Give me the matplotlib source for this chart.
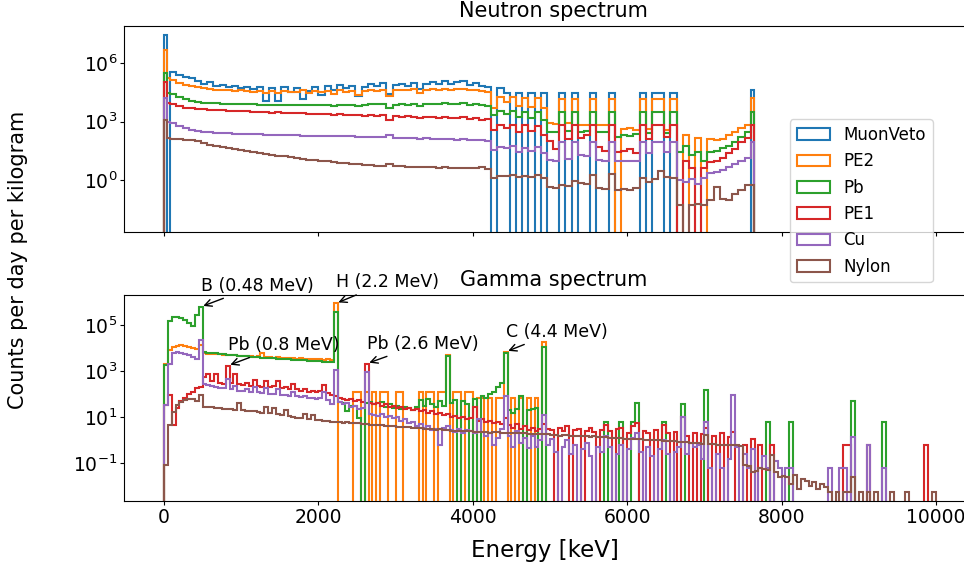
import numpy as np
import matplotlib
matplotlib.use("Agg")
import matplotlib.pyplot as plt
from matplotlib.ticker import NullLocator

plt.rcParams['font.size'] = 12.5

Z = None  # empty bin

materials = ['MuonVeto', 'PE2', 'Pb', 'PE1', 'Cu', 'Nylon']
colors = ['C0', 'C1', 'C2', 'C3', 'C4', 'C5']

# bin edges in keV
neutron_edges = [0, 40] + list(range(80, 7601, 80)) + [7640]
gamma_edges = list(range(0, 10001, 50))

# ---------------- Neutron spectrum, log10(counts/day/kg) per bin ----------------
n_muonveto = [7.45, Z,
    5.55, 5.40, 5.30, 5.25, 5.10, 4.95, 5.05, 4.85, 4.90, 4.80,
    4.85, 4.75, 4.80, 4.70, 4.80, 4.05, 4.75, 4.05, 4.80, 4.50,
    4.75, 4.15, 4.55, 4.80, 4.35, 4.85, 4.60, 4.90, 4.75, 4.85,
    4.30, 4.80, 4.95, 4.85, 5.00, 4.40, 4.90, 4.95, 4.85, 5.00,
    4.70, 4.95, 5.05, 4.95, 5.10, 4.95, 5.05, 5.10, 4.90, 5.00,
    4.85, 4.80,
    Z, 4.75, 4.45, Z, 4.45, Z, 4.45, Z, 4.45,
    Z, Z, 4.45, Z, 4.45, Z, Z, 4.45, Z, Z, 4.45, Z, Z, Z, Z, 4.45, Z, 4.45, 4.45, Z,
    4.45, Z, Z, Z, Z, Z, Z, Z, Z, Z, Z, Z, Z,
    4.63]
n_pe2 = [6.70, 5.23,
    5.15, 5.00, 4.90, 4.85, 4.78, 4.72, 4.68, 4.65, 4.62, 4.62,
    4.58, 4.60, 4.55, 4.52, 4.55, 4.45, 4.55, 4.48, 4.55, 4.50,
    4.52, 4.60, 4.45, 4.55, 4.50, 4.55, 4.40, 4.60, 4.50, 4.55,
    4.35, 4.55, 4.62, 4.58, 4.62, 4.30, 4.60, 4.65, 4.60, 4.66,
    4.45, 4.60, 4.66, 4.62, 4.70, 4.62, 4.68, 4.70, 4.60, 4.62,
    4.55, 4.50,
    3.70, 4.25, 4.00, 4.25, 3.80, 4.20, 3.75, 4.20, 3.70,
    2.95, 2.90, 4.15, 2.95, 4.15, 2.85, 2.80, 4.15, 2.85, 2.80, 4.15, Z, 2.60, 2.65, 2.55, 4.15, 2.60, 4.15, 4.15, 2.55,
    4.15, Z, 2.30, Z, 2.15, Z, 2.10, 2.05, 2.10, 2.30, 2.45, 2.65, 2.85,
    4.22]
n_pb = [5.50, 4.46,
    4.40, 4.25, 4.15, 4.08, 4.02, 3.98, 3.96, 3.94, 3.92, 3.92,
    3.90, 3.90, 3.88, 3.88, 3.87, 3.86, 3.87, 3.85, 3.86, 3.85,
    3.85, 3.86, 3.84, 3.85, 3.84, 3.86, 3.82, 3.86, 3.85, 3.86,
    3.80, 3.86, 3.88, 3.88, 3.90, 3.70, 3.86, 3.88, 3.86, 3.90,
    3.80, 3.88, 3.92, 3.88, 3.94, 3.88, 3.92, 3.94, 3.86, 3.90,
    3.84, 3.82,
    3.35, 3.55, 3.40, 3.55, 3.25, 3.50, 3.20, 3.50, 3.10,
    2.48, 2.45, 3.50, 2.50, 3.50, 2.45, 2.50, 3.50, 2.48, 2.45, 3.50, 2.20, 2.30, 2.25, 2.35, 3.50, 2.40, 3.50, 3.50, 2.40,
    3.50, 1.45, 1.75, 1.30, 1.45, 1.00, 1.45, 1.50, 1.65, 1.75, 1.95, 2.20, 2.45,
    3.51]
n_pe1 = [5.05, 3.94,
    3.90, 3.80, 3.72, 3.70, 3.66, 3.64, 3.62, 3.58, 3.60, 3.56,
    3.55, 3.52, 3.53, 3.50, 3.50, 3.48, 3.46, 3.47, 3.44, 3.45,
    3.42, 3.44, 3.40, 3.40, 3.38, 3.40, 3.36, 3.38, 3.35, 3.34,
    3.32, 3.30, 3.33, 3.30, 3.32, 3.10, 3.28, 3.26, 3.28, 3.25,
    3.20, 3.22, 3.25, 3.20, 3.24, 3.18, 3.20, 3.22, 3.15, 3.18,
    3.10, 3.12,
    2.55, 2.80, 2.65, 2.85, 2.45, 2.80, 2.50, 2.75, 2.30,
    2.00, 1.60, 2.85, 2.10, 2.85, 2.15, 2.30, 2.85, 1.70, 1.50, 2.85, 1.45, 1.50, 1.60, 1.40, 2.85, 2.10, 2.85, 2.85, 2.20,
    2.85, Z, 0.95, 0.60, Z, 0.60, 0.90, 1.00, 1.15, 1.40, 1.60, 1.95, 2.15,
    2.83]
n_cu = [4.20, 3.00,
    2.95, 2.75, 2.65, 2.58, 2.52, 2.48, 2.45, 2.43, 2.42, 2.40,
    2.38, 2.38, 2.36, 2.35, 2.34, 2.33, 2.32, 2.32, 2.30, 2.30,
    2.29, 2.28, 2.28, 2.27, 2.26, 2.26, 2.25, 2.25, 2.24, 2.24,
    2.22, 2.22, 2.20, 2.20, 2.20, 2.30, 2.18, 2.17, 2.16, 2.15,
    2.12, 2.14, 2.12, 2.10, 2.12, 2.10, 2.08, 2.10, 2.06, 2.08,
    2.04, 2.00,
    1.55, 1.70, 1.65, 1.75, 1.45, 1.65, 1.50, 1.70, 1.40,
    1.05, 1.00, 1.97, 1.10, 1.97, 1.30, 1.25, 1.97, 1.05, 1.00, 1.97, 0.95, 0.98, 1.00, 0.95, 1.97, 1.40, 1.97, 1.97, 1.45,
    1.97, 0.00, -0.10, 0.05, -0.20, 0.10, 0.35, 0.40, 0.50, 0.65, 0.80, 1.00, 1.15,
    1.97]
n_nylon = [3.10, 2.14,
    2.12, 2.10, 2.08, 2.05, 1.98, 1.90, 1.82, 1.75, 1.68, 1.62,
    1.58, 1.53, 1.48, 1.44, 1.39, 1.34, 1.30, 1.25, 1.21, 1.16,
    1.11, 1.08, 1.05, 1.01, 0.98, 0.95, 0.92, 0.88, 0.85, 0.82,
    0.80, 0.77, 0.75, 0.74, 0.72, 0.82, 0.72, 0.70, 0.69, 0.68,
    0.66, 0.67, 0.65, 0.64, 0.66, 0.63, 0.62, 0.64, 0.60, 0.62,
    0.65, 0.58,
    0.10, 0.20, 0.20, 0.25, 0.15, 0.22, 0.15, 0.25, 0.10,
    -0.35, -0.40, -0.25, -0.30, -0.05, -0.15, -0.20, 0.25, -0.40, -0.45, 0.29, -0.50, -0.45, -0.50, -0.40, 0.10, -0.10, 0.05, 0.45, 0.15,
    0.10, -1.30, Z, -1.30, -1.25, -1.30, -1.05, -0.35, -1.00, -1.05, -0.70, -0.50, -0.26,
    -0.26]

# ---------------- Gamma spectrum, log10(counts/day/kg) per 50 keV bin ----------------
g_pe2 = [
    3.30, 3.90, 4.05, 4.10, 4.12, 4.10, 4.05, 4.00, 3.95, 4.15,
    3.80, 3.75, 3.74, 3.72, 3.72, 3.70, 3.70, 3.68, 3.70, 3.66,
    3.67, 3.64, 3.66, 3.62, 3.64, 3.78, 3.60, 3.62, 3.58, 3.60,
    3.56, 3.58, 3.55, 3.56, 3.54, 3.55, 3.52, 3.54, 3.50, 3.52,
    3.50, 3.48, 3.50, 3.46, 5.93, Z, Z, Z, Z, 2.10,
    2.10, Z, 2.10, Z, 2.10, Z, 2.10, 2.10, Z, Z,
    2.10, 2.10, Z, Z, Z, Z, 2.10, Z, 2.10, 2.10,
    Z, 2.10, 2.10, 3.70, Z, 2.10, 2.10, Z, 2.10, 2.10,
    Z, 1.85, 1.85, Z, 1.85, Z, 1.85, 1.85, 3.83, Z,
    1.85, Z, 1.85, Z, 1.85, Z, 1.85, Z, 4.26,
    *[Z] * 101]
g_pb = [
    3.27, 5.15, 5.35, 5.33, 5.28, 5.20, 5.10, 4.95, 5.45, 5.78,
    3.83, 3.80, 3.78, 3.76, 3.74, 3.72, 3.70, 3.69, 3.68, 3.66,
    3.65, 3.63, 3.62, 3.60, 3.60, 3.58, 3.57, 3.56, 3.55, 3.53,
    3.52, 3.51, 3.50, 3.49, 3.48, 3.47, 3.46, 3.45, 3.44, 3.43,
    3.42, 3.41, 3.40, 3.40, 5.56, 1.65, 1.60, 1.25, 1.50, 1.50,
    0.95, Z, 1.60, 1.65, 1.55, 1.60, 1.65, 1.45, 1.55, 1.40,
    1.50, 1.35, 1.45, 1.40, 1.30, 1.45, 1.75, 1.50, 1.80, 1.55,
    1.45, 1.70, 1.50, 3.65, 1.60, 1.75, Z, 1.70, 1.55, Z,
    1.80, Z, 1.90, 1.85, 2.00, 2.10, 2.30, 2.50, 3.76, 1.30,
    1.20, 1.35, 1.90, Z, 1.30, 1.35, 1.40, Z, 4.05,
    *[Z] * 15, 0.80, *[Z] * 3, 0.80, Z, Z, 0.80, 1.60, *[Z] * 6, 0.80,
    *[Z] * 4, 1.56, *[Z] * 5, 2.18,
    *[Z] * 15, 0.80, *[Z] * 5, 0.80, *[Z] * 15, 1.70, *[Z] * 7, 0.80, *[Z] * 13]
g_pe1 = [
    1.52, 1.95, 0.65, 1.40, 1.70, 1.85, 2.00, 2.10, 2.25, 2.30,
    2.75, 2.85, 2.55, 2.85, 2.50, 2.45, 3.23, 2.50, 2.85, 2.45,
    2.40, 2.50, 2.35, 2.60, 2.35, 2.30, 2.55, 2.30, 2.35, 2.55,
    2.25, 2.30, 2.20, 2.45, 2.20, 2.15, 2.20, 2.10, 2.15, 2.10,
    2.15, 2.40, 2.05, 1.95, 1.90, 1.85, 1.80, 1.75, 1.80, 1.70,
    1.75, 1.65, 3.32, 1.60, 1.55, 1.60, 1.50, 1.55, 1.45, 1.50,
    1.40, 1.45, 1.35, 1.40, 1.30, 1.35, 1.25, 1.30, 1.20, 1.25,
    1.15, 1.20, 1.10, 1.15, 1.00, 1.05, 0.95, 1.00, 0.90, 0.95,
    1.45, 0.85, 0.90, 0.80, 0.85, 0.75, 0.80, 0.70, 0.95, 0.65,
    0.55, 0.70, 0.50, 0.60, 0.45, 0.55, 0.40, 0.50, 0.70, 0.50,
    0.45, Z, 0.55, 0.40, 0.60, Z, 0.45, 0.50, Z, 0.40,
    0.55, 0.35, Z, 0.45, 0.65, 0.40, Z, 0.50, 0.55, Z,
    0.30, 0.60, 0.75, Z, 0.40, 0.30, Z, 0.45, Z, 0.65,
    0.30, Z, 0.35, Z, 1.02, 0.20, Z, 0.30, Z, 0.25,
    0.55, Z, 0.20, Z, 0.30, Z, 0.15, 0.36, Z, Z,
    -0.20, Z, 0.07, Z, -0.20, Z, Z, -0.20, Z, Z,
    Z, Z, Z, Z, Z, Z, Z, Z, Z, Z,
    Z, Z, Z, Z, Z, Z, -0.20, -0.20, Z, Z,
    Z, Z, -0.20, Z, Z, Z, Z, Z, Z, Z,
    Z, Z, Z, Z, Z, Z, Z, -0.20, Z, Z]
g_cu = [
    1.52, 3.32, 3.76, 3.83, 3.80, 3.75, 3.68, 3.60, 3.50, 4.36,
    2.45, 2.40, 2.35, 2.30, 2.28, 2.25, 2.67, 2.20, 2.35, 2.15,
    2.12, 2.20, 2.10, 2.30, 2.08, 2.05, 2.25, 2.00, 2.02, 2.20,
    1.98, 1.95, 1.92, 2.10, 1.90, 1.88, 1.90, 1.82, 1.85, 1.80,
    1.85, 2.10, 1.75, 1.55, 3.03, 1.65, 1.55, 1.60, 1.45, 1.50,
    1.35, 1.40, 2.96, 1.15, 1.10, 1.05, 1.15, 1.00, 1.05, 0.95,
    1.00, 0.85, 0.90, 0.75, 0.80, 0.60, 0.70, 0.55, 0.60, 0.45,
    0.50, -0.20, 0.55, 0.60, 0.45, 0.35, 0.50, 0.30, 0.45, 0.40,
    0.30, 0.94, 0.35, 0.20, 0.30, -0.20, 0.10, 0.50, 1.90, 0.20,
    -0.30, 0.40, -0.10, 0.10, -0.35, 0.20, -0.30, 0.00, 1.10, -0.20,
    0.05, -0.50, Z, -0.30, 0.00, -0.60, -0.20, Z, -0.40, -0.10,
    -0.70, Z, -0.30, -0.50, 0.20, -0.30, Z, -0.60, -0.20, Z,
    -0.40, 0.10, 0.30, -0.50, Z, -0.30, -0.70, Z, -0.40, 0.00,
    -0.60, Z, -0.50, -0.30, 1.00, -0.60, -0.10, -0.30, -0.20, -0.80,
    0.79, -1.20, Z, -0.60, -1.20, Z, -0.80, 1.95, -0.30, Z,
    -0.60, -1.20, -0.40, Z, -1.20, -0.70, -1.20, Z, -0.90, -1.20,
    Z, -1.20, -1.20, Z, Z, Z, Z, Z, Z, Z,
    Z, Z, -1.20, Z, Z, -1.20, -1.20, Z, 0.14, Z,
    Z, Z, -0.22, Z, Z, Z, -1.20, Z, Z, Z,
    Z, Z, Z, Z, Z, Z, Z, Z, Z, Z]
g_nylon = [
    -1.09, 0.65, 1.23, 1.52, 1.66, 1.75, 1.80, 1.78, 1.72, 1.95,
    1.45, 1.43, 1.42, 1.40, 1.39, 1.37, 1.36, 1.35, 1.33, 1.60,
    1.30, 1.28, 1.26, 1.25, 1.23, 1.20, 1.45, 1.16, 1.40, 1.12,
    1.10, 1.30, 1.03, 1.00, 0.98, 0.96, 1.15, 0.92, 1.10, 0.88,
    0.86, 0.84, 0.82, 0.80, 0.79, 0.78, 0.76, 0.77, 0.74, 0.73,
    0.74, 0.70, 0.71, 0.68, 0.67, 0.66, 0.64, 0.60, 0.62, 0.60,
    0.59, 0.58, 0.56, 0.57, 0.54, 0.52, 0.51, 0.50, 0.48, 0.47,
    0.46, 0.47, 0.44, 0.43, 0.42, 0.41, 0.38, 0.39, 0.38, 0.38,
    0.37, 0.36, 0.36, 0.35, 0.33, 0.34, 0.34, 0.33, 0.33, 0.32,
    0.31, 0.30, 0.30, 0.31, 0.28, 0.28, 0.27, 0.26, 0.26, 0.25,
    0.24, 0.24, 0.20, 0.22, 0.21, 0.20, 0.20, 0.19, 0.18, 0.17,
    0.16, 0.17, 0.14, 0.13, 0.12, 0.11, 0.10, 0.09, 0.08, 0.05,
    0.07, 0.06, 0.05, 0.04, 0.03, 0.02, 0.01, 0.02, -0.01, -0.02,
    -0.03, -0.04, -0.05, -0.09, -0.07, -0.08, -0.10, -0.12, -0.14, -0.15,
    0.22, -0.17, -0.18, -0.20, -0.19, -0.20, -0.21, -0.22, -0.22, -0.24,
    -1.09, -1.10, -1.38, -1.35, -1.20, -1.25, -1.30, -0.65, -1.40, -1.60,
    -1.55, -1.60, -1.90, -1.50, -2.10, -1.70, -1.75, -2.00, -1.80, -2.10,
    -1.90, -2.05, -2.25, Z, -2.25, Z, -2.25, -2.25, -1.60, Z,
    -2.25, Z, -2.25, Z, -2.25, Z, Z, Z, -2.25, Z,
    Z, Z, -2.25, Z, Z, Z, Z, Z, Z, -2.25]

neutron_series = [n_muonveto, n_pe2, n_pb, n_pe1, n_cu, n_nylon]
gamma_series = [None, g_pe2, g_pb, g_pe1, g_cu, g_nylon]   # no MuonVeto gamma entries

# annotations: (label, series index, bin index, text log10 height)
peak_labels = ['B (0.48 MeV)', 'H (2.2 MeV)', 'Pb (0.8 MeV)', 'Pb (2.6 MeV)', 'C (4.4 MeV)']
peak_series = [2, 1, 3, 3, 1]
peak_bins = [9, 44, 16, 52, 88]
peak_text_log = [6.49, 6.64, 3.92, 3.97, 4.49]


def counts(logs):
    return np.array([0.0 if v is None else 10.0 ** v for v in logs])


W, H = 964, 565
fig = plt.figure(figsize=(W / 100, H / 100), dpi=100)
ax1 = fig.add_axes([124 / W, 1 - 232.3 / H, 859 / W, 206.6 / H])
ax2 = fig.add_axes([124 / W, 1 - 501.3 / H, 859 / W, 206.6 / H], sharex=ax1)

ne = np.array(neutron_edges, dtype=float)
ge = np.array(gamma_edges, dtype=float)
assert all(len(s) == len(ne) - 1 for s in neutron_series), [len(s) for s in neutron_series]
assert all(len(s) == len(ge) - 1 for s in gamma_series if s is not None)

for ax in (ax1, ax2):
    ax.set_yscale('log')

for name, col, s in zip(materials, colors, neutron_series):
    ax1.hist(ne[:-1], bins=ne, weights=counts(s), histtype='step',
             color=col, linewidth=1.5, label=name)
for name, col, s in zip(materials, colors, gamma_series):
    if s is None:
        continue
    ax2.hist(ge[:-1], bins=ge, weights=counts(s), histtype='step',
             color=col, linewidth=1.5, label=name)

ax1.set_xlim(-518, 10609)
ax1.set_ylim(10 ** -2.69, 10 ** 7.93)
ax2.set_ylim(10 ** -2.65, 10 ** 6.31)
ax1.set_yticks([1e0, 1e3, 1e6])
ax2.set_yticks([1e-1, 1e1, 1e3, 1e5])
for ax in (ax1, ax2):
    ax.yaxis.set_minor_locator(NullLocator())
    ax.tick_params(which='major', length=2.6, pad=2.2, labelsize=13.5)
ax2.set_xticks([0, 2000, 4000, 6000, 8000, 10000])
ax1.tick_params(labelbottom=False)

ax1.set_title('Neutron spectrum', fontsize=15)
ax2.set_title('Gamma spectrum', fontsize=15)

centers = (ge[:-1] + ge[1:]) / 2
for lab, si, bi, tl in zip(peak_labels, peak_series, peak_bins, peak_text_log):
    yv = counts(gamma_series[si])[bi]
    ax2.annotate(lab, xy=(centers[bi], yv), xytext=(centers[bi], 10 ** tl),
                 fontsize=12.5,
                 arrowprops=dict(arrowstyle='->', color='black', lw=1))

handles, labels = ax1.get_legend_handles_labels()
fig.legend(handles, labels, loc='upper left', borderaxespad=0.0,
           bbox_to_anchor=(790 / W, 1 - 119.3 / H), fontsize=12)

fig.text(18 / W, 1 - 260 / H, 'Counts per day per kilogram', rotation=90,
         ha='center', va='center', fontsize=15)
fig.text(545 / W, 1 - 550 / H, 'Energy [keV]', ha='center', va='center', fontsize=16.5)

fig.savefig('out.png', dpi=100)
